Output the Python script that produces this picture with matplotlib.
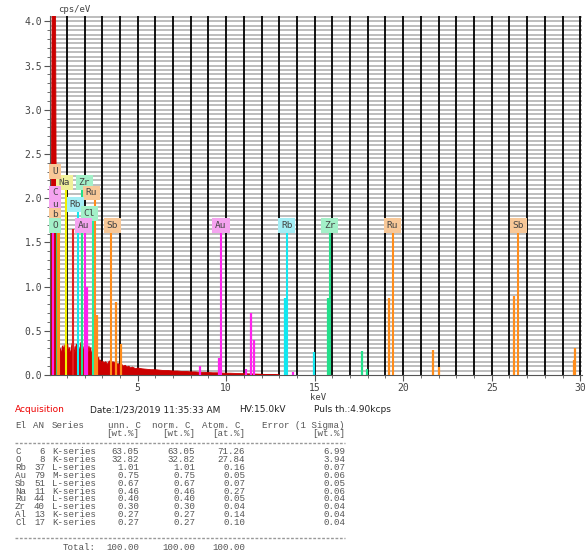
import matplotlib
matplotlib.use("Agg")
import matplotlib.pyplot as plt
from matplotlib.lines import Line2D
import numpy as np

# ---------------- data ----------------
spec_e = [0.05, 0.10, 0.15, 0.20, 0.25, 0.30, 0.35, 0.40, 0.45, 0.50,
          0.55, 0.60, 0.65, 0.70, 0.75, 0.80, 0.85, 0.90, 0.95, 1.00,
          1.05, 1.10, 1.15, 1.20, 1.25, 1.30, 1.35, 1.40, 1.45, 1.50,
          1.55, 1.60, 1.65, 1.70, 1.75, 1.80, 1.85, 1.90, 1.95, 2.00,
          2.05, 2.10, 2.15, 2.20, 2.25, 2.30, 2.35, 2.40, 2.45, 2.50,
          2.55, 2.60, 2.65, 2.70, 2.75, 2.80, 2.85, 2.90, 2.95, 3.00,
          3.1, 3.2, 3.3, 3.4, 3.5, 3.6, 3.7, 3.8, 3.9, 4.0,
          4.1, 4.2, 4.3, 4.4, 4.5, 4.6, 4.7, 4.8, 4.9, 5.0,
          5.25, 5.5, 5.75, 6.0, 6.25, 6.5, 6.75, 7.0, 7.25, 7.5,
          7.75, 8.0, 8.25, 8.5, 8.75, 9.0, 9.25, 9.5, 9.75, 10.0,
          10.25, 10.5, 10.75, 11.0, 11.25, 11.5, 11.75, 12.0, 12.5, 13.0]
spec_c = [0.6, 1.5, 3.0, 6.0, 8.0, 7.0, 5.0, 2.0, 0.6, 0.9,
          0.5, 0.25, 0.30, 0.22, 0.33, 0.28, 0.34, 0.24, 0.36, 0.30,
          0.35, 0.26, 0.31, 0.22, 0.30, 0.36, 0.27, 0.33, 0.24, 0.32,
          0.35, 0.28, 0.34, 0.26, 0.31, 0.37, 0.28, 0.33, 0.24, 0.36,
          0.31, 0.38, 0.30, 0.26, 0.33, 0.27, 0.31, 0.22, 0.28, 0.34,
          0.25, 0.30, 0.22, 0.26, 0.18, 0.20, 0.15, 0.17, 0.13, 0.16,
          0.14, 0.15, 0.12, 0.16, 0.13, 0.15, 0.14, 0.12, 0.13, 0.11,
          0.12, 0.10, 0.11, 0.09, 0.10, 0.08, 0.09, 0.08, 0.07, 0.08,
          0.07, 0.065, 0.06, 0.06, 0.055, 0.05, 0.05, 0.045, 0.045, 0.04,
          0.04, 0.035, 0.035, 0.03, 0.03, 0.028, 0.025, 0.025, 0.022, 0.02,
          0.02, 0.018, 0.016, 0.015, 0.013, 0.012, 0.010, 0.008, 0.004, 0.0]

line_color = {"C": "#ff44dd", "O": "#22d070", "Na": "#f0f000", "Al": "#e02020",
              "Rb": "#11e8f0", "Zr": "#22e08a", "Au": "#ff22ee", "Ru": "#ff8c1a",
              "Sb": "#ff8c1a", "Cl": "#22f0a0"}
box_color = {"C": "#f5a3f0", "O": "#a3f0c8", "Na": "#f0f09a", "Rb": "#a3eef5",
             "Zr": "#a3f0c8", "Au": "#f5a3f0", "Ru": "#f8c898", "Sb": "#f8c898",
             "Cl": "#a3f0c8"}

marker_el = ["C", "Au", "O", "Ru", "Sb", "Na", "Al", "Rb", "Zr", "Au", "Cl", "Ru", "Sb",
             "Au", "Rb", "Zr", "Ru", "Sb"]
marker_e = [0.20, 0.24, 0.45, 0.51, 0.56, 0.95, 1.33, 1.61, 1.84, 2.05, 2.46, 2.62, 3.50,
            9.71, 13.42, 15.85, 19.40, 26.50]
marker_top = [2.05, 1.93, 1.69, 2.30, 1.81, 2.18, 1.65, 1.93, 2.18, 1.69, 1.83, 2.06, 1.69,
              1.69, 1.69, 1.69, 1.69, 1.69]

peak_el = ["Au", "Ru", "Sb", "Sb", "Au", "Au", "Au", "Au", "Au", "Au", "Rb", "Rb", "Zr", "Zr",
           "Zr", "Ru", "Ru", "Ru", "Sb", "Sb", "Sb"]
peak_e = [2.15, 2.70, 3.78, 4.05, 8.50, 9.58, 11.10, 11.42, 11.60, 13.80, 13.33, 14.96, 15.75,
          17.67, 17.97, 19.22, 21.66, 22.05, 26.25, 29.62, 29.72]
peak_h = [1.00, 0.68, 0.82, 0.35, 0.10, 0.19, 0.07, 0.70, 0.40, 0.03, 0.87, 0.26, 0.87,
          0.27, 0.07, 0.87, 0.28, 0.09, 0.89, 0.17, 0.30]

# labels cut by the left edge of the plot (only the visible part is shown)
edge_text = ["U", "C", "u", "b", "O"]
edge_el = ["Ru", "C", "Au", "Sb", "O"]
edge_y = [2.30, 2.06, 1.93, 1.81, 1.69]

label_text = ["Na", "Zr", "Ru", "Rb", "Cl", "Au", "Sb",
              "Au", "Rb", "Zr", "Ru", "Sb"]
label_el = ["Na", "Zr", "Ru", "Rb", "Cl", "Au", "Sb",
            "Au", "Rb", "Zr", "Ru", "Sb"]
label_x = [0.85, 1.98, 2.40, 1.47, 2.26, 1.92, 3.56,
           9.71, 13.42, 15.85, 19.40, 26.50]
label_y = [2.18, 2.18, 2.06, 1.93, 1.83, 1.69, 1.69,
           1.69, 1.69, 1.69, 1.69, 1.69]

x_ticks = [5, 10, 15, 20, 25, 30]
y_ticks = [0.0, 0.5, 1.0, 1.5, 2.0, 2.5, 3.0, 3.5, 4.0]

tbl_el = ["C", "O", "Rb", "Au", "Sb", "Na", "Ru", "Zr", "Al", "Cl"]
tbl_an = [6, 8, 37, 79, 51, 11, 44, 40, 13, 17]
tbl_series = ["K-series", "K-series", "L-series", "M-series", "L-series", "K-series",
              "L-series", "L-series", "K-series", "K-series"]
tbl_unn = ["63.05", "32.82", "1.01", "0.75", "0.67", "0.46", "0.40", "0.30", "0.27", "0.27"]
tbl_norm = ["63.05", "32.82", "1.01", "0.75", "0.67", "0.46", "0.40", "0.30", "0.27", "0.27"]
tbl_atom = ["71.26", "27.84", "0.16", "0.05", "0.07", "0.27", "0.05", "0.04", "0.14", "0.10"]
tbl_err = ["6.99", "3.94", "0.07", "0.06", "0.05", "0.06", "0.04", "0.04", "0.04", "0.04"]
tbl_total = ["100.00", "100.00", "100.00"]

# ---------------- figure ----------------
W, H = 588, 554
fig = plt.figure(figsize=(W / 100, H / 100), dpi=100)
ax = fig.add_axes([50 / W, 1 - 375 / H, 532 / W, 359 / H])
ax.set_xlim(0.05, 30.1)
ax.set_ylim(0, 4.06)

# grid
for yy in np.arange(0.05, 4.06, 0.05):
    ax.axhline(yy, color="#ababab", lw=1.1, zorder=0)
for xx in range(1, 31):
    ax.axvline(xx, color="black", lw=1.3, zorder=0.5)

# spectrum
ax.fill_between(spec_e, spec_c, 0, color="#cc0000", lw=0.6, zorder=2)

# marker lines
for el, e, t in zip(marker_el, marker_e, marker_top):
    ax.plot([e, e], [0, t], color=line_color[el], lw=1.5, zorder=3, solid_capstyle="butt")

# fitted peak lines
for el, e, h in zip(peak_el, peak_e, peak_h):
    ax.plot([e, e], [0, h], color=line_color[el], lw=1.6, zorder=3, solid_capstyle="butt")

# labels
box_kw = dict(boxstyle="square,pad=0.3", ec="none")
for t, el, x, y in zip(label_text, label_el, label_x, label_y):
    ax.text(x, y, t, ha="center", va="center", fontsize=6.8, color="#444444",
            family="DejaVu Sans Mono", zorder=5,
            bbox=dict(fc=box_color[el], **box_kw))
for t, el, y in zip(edge_text, edge_el, edge_y):
    ax.text(0.18, y, t, ha="left", va="center", fontsize=6.8, color="#444444",
            family="DejaVu Sans Mono", zorder=5,
            bbox=dict(fc=box_color[el], **box_kw))

# axes styling
for s in ["top", "right"]:
    ax.spines[s].set_visible(False)
ax.spines["left"].set_color("#555555")
ax.spines["bottom"].set_color("#555555")
ax.set_xticks(x_ticks)
ax.set_xticklabels([str(v) for v in x_ticks], family="DejaVu Sans Mono", fontsize=7, color="#444444")
ax.set_xticks(range(1, 31), minor=True)
ax.set_yticks(y_ticks)
ax.set_yticklabels([f"{v:.1f}" for v in y_ticks], family="DejaVu Sans Mono", fontsize=7, color="#444444")
ax.set_yticks(np.arange(0, 4.05, 0.1), minor=True)
ax.tick_params(axis="both", which="major", length=4, color="#555555", pad=1.5)
ax.tick_params(axis="both", which="minor", length=2.5, color="#555555")

fig.text(58 / W, 1 - 10 / H, "cps/eV", fontsize=6.5, family="DejaVu Sans Mono",
         color="#444444", va="center", ha="left")
fig.text(318 / W, 1 - 397 / H, "keV", fontsize=6.5, family="DejaVu Sans Mono",
         color="#444444", va="center", ha="center")

# acquisition line
yacq = 1 - 410 / H
fig.text(15 / W, yacq, "Acquisition", fontsize=6.5, color="#ee0000", va="center", ha="left")
fig.text(90 / W, yacq, "Date:1/23/2019 11:35:33 AM", fontsize=6.5, color="#222222", va="center", ha="left")
fig.text(239 / W, yacq, "HV:15.0kV", fontsize=6.5, color="#222222", va="center", ha="left")
fig.text(314 / W, yacq, "Puls th.:4.90kcps", fontsize=6.5, color="#222222", va="center", ha="left")

# table (columns placed separately)
fs = 6.6
def T(xp, yp, s, ha="left"):
    fig.text(xp / W, 1 - yp / H, s, family="Liberation Mono", fontsize=fs,
             color="#555555", va="center", ha=ha)

T(15, 426, "El")
T(33, 426, "AN")
T(52, 426, "Series")
T(108, 426, "unn. C")
T(152, 426, "norm. C")
T(202, 426, "Atom. C")
T(345, 426, "Error (1 Sigma)", ha="right")
T(139, 434, "[wt.%]", ha="right")
T(195, 434, "[wt.%]", ha="right")
T(245, 434, "[at.%]", ha="right")
T(345, 434, "[wt.%]", ha="right")

for yp in (443, 538):
    fig.add_artist(Line2D([15 / W, 345 / W], [1 - yp / H, 1 - yp / H], color="#999999",
                          lw=1.0, ls=(0, (2, 1.2)), transform=fig.transFigure))

y0 = 452
for i in range(len(tbl_el)):
    yp = y0 + i * 7.8
    T(15, yp, tbl_el[i])
    T(45, yp, str(tbl_an[i]), ha="right")
    T(52, yp, tbl_series[i])
    T(139, yp, tbl_unn[i], ha="right")
    T(195, yp, tbl_norm[i], ha="right")
    T(245, yp, tbl_atom[i], ha="right")
    T(345, yp, tbl_err[i], ha="right")

T(63, 547, "Total:")
T(139, 547, tbl_total[0], ha="right")
T(195, 547, tbl_total[1], ha="right")
T(245, 547, tbl_total[2], ha="right")

fig.savefig("out.png", dpi=100)
